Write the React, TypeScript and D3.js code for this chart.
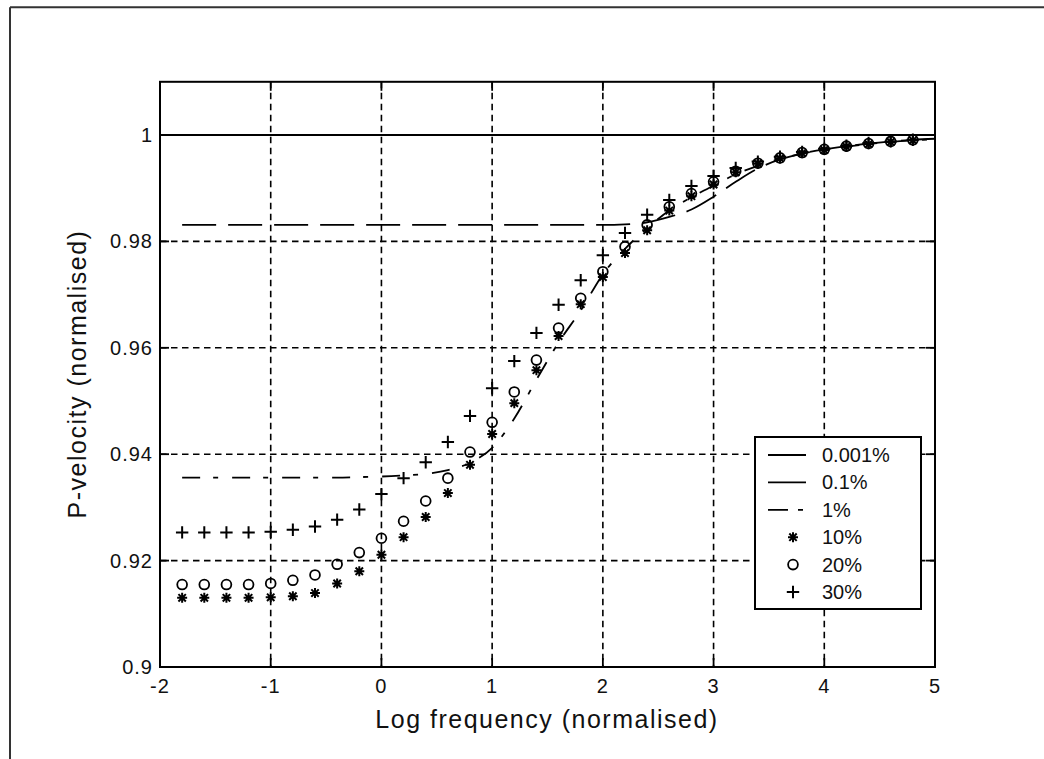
import React from "react";
import * as d3 from "d3";

// Marker series sample frequencies (log, normalised)
const markerFreq = [
  -1.8, -1.6, -1.4, -1.2, -1.0, -0.8, -0.6, -0.4, -0.2, 0.0, 0.2, 0.4, 0.6, 0.8,
  1.0, 1.2, 1.4, 1.6, 1.8, 2.0, 2.2, 2.4, 2.6, 2.8, 3.0, 3.2, 3.4, 3.6, 3.8, 4.0,
  4.2, 4.4, 4.6, 4.8,
];

// 10% (asterisks)
const vel10 = [
  0.913, 0.913, 0.913, 0.913, 0.9131, 0.9133, 0.9139, 0.9157, 0.918, 0.9211,
  0.9244, 0.9282, 0.9327, 0.938, 0.9438, 0.9496, 0.9558, 0.9622, 0.9682, 0.9733,
  0.9778, 0.9821, 0.9858, 0.9885, 0.9907, 0.993, 0.9946, 0.9956, 0.9966, 0.9972,
  0.9978, 0.9983, 0.9987, 0.999,
];

// 20% (circles)
const vel20 = [
  0.9155, 0.9155, 0.9155, 0.9155, 0.9157, 0.9163, 0.9173, 0.9193, 0.9215, 0.9242,
  0.9274, 0.9312, 0.9355, 0.9404, 0.946, 0.9517, 0.9577, 0.9637, 0.9693, 0.9743,
  0.979, 0.9831, 0.9865, 0.989, 0.9912, 0.9932, 0.9947, 0.9957, 0.9967, 0.9973,
  0.9979, 0.9984, 0.9988, 0.9991,
];

// 30% (plus signs)
const vel30 = [
  0.9253, 0.9253, 0.9253, 0.9253, 0.9254, 0.9258, 0.9264, 0.9277, 0.9296, 0.9325,
  0.9355, 0.9385, 0.9423, 0.9472, 0.9524, 0.9575, 0.9628, 0.9681, 0.9727, 0.9774,
  0.9816, 0.985, 0.9878, 0.9904, 0.9923, 0.9938, 0.995, 0.9959, 0.9968, 0.9974,
  0.998, 0.9985, 0.9988, 0.9991,
];

// Continuous curves sample frequencies
const curveFreq = [
  -1.8, -1.6, -1.4, -1.2, -1.0, -0.8, -0.6, -0.4, -0.2, 0.0, 0.2, 0.4, 0.6, 0.8,
  1.0, 1.2, 1.4, 1.6, 1.8, 2.0, 2.2, 2.4, 2.6, 2.8, 3.0, 3.2, 3.4, 3.6, 3.8, 4.0,
  4.2, 4.4, 4.6, 4.8, 5.0,
];

// 0.001% (solid) — flat over the whole frequency range
const flatFreq = [-2, 5];
const vel0001 = [1.0, 1.0];

// 0.1% (dashed)
const vel01 = [
  0.9831, 0.9831, 0.9831, 0.9831, 0.9831, 0.9831, 0.9831, 0.9831, 0.9831, 0.9831,
  0.9831, 0.9831, 0.9831, 0.9831, 0.9831, 0.9831, 0.9831, 0.9831, 0.9831, 0.9831,
  0.9832, 0.9836, 0.9846, 0.986, 0.9884, 0.9912, 0.9937, 0.9954, 0.9965, 0.9973,
  0.9979, 0.9984, 0.9988, 0.9991, 0.9993,
];

// 1% (dash-dot)
const vel1 = [
  0.9356, 0.9356, 0.9356, 0.9356, 0.9356, 0.9356, 0.9356, 0.9356, 0.9357, 0.9358,
  0.936, 0.9363, 0.937, 0.9384, 0.9412, 0.9467, 0.954, 0.961, 0.967, 0.9738,
  0.9786, 0.9825, 0.9858, 0.9883, 0.9905, 0.9926, 0.9942, 0.9955, 0.9965, 0.9972,
  0.9978, 0.9983, 0.9987, 0.999, 0.9992,
];

const xTicks = [-2, -1, 0, 1, 2, 3, 4, 5];
const yTicks = [0.9, 0.92, 0.94, 0.96, 0.98, 1.0];
const yTickLabels = ["0.9", "0.92", "0.94", "0.96", "0.98", "1"];

const legendLabels = ["0.001%", "0.1%", "1%", "10%", "20%", "30%"];

const FONT = "'Liberation Sans', Arial, Helvetica, sans-serif";
const INK = "#000";

const left = 160;
const right = 935;
const top = 81.8;
const bottom = 667;

function Asterisk({ x, y }: { x: number; y: number }) {
  const r = 5;
  const d = 3.7;
  return (
    <path
      d={`M${x - r},${y}H${x + r}M${x},${y - r}V${y + r}M${x - d},${y - d}L${x + d},${y + d}M${x - d},${y + d}L${x + d},${y - d}`}
      stroke={INK}
      strokeWidth={2}
      fill="none"
    />
  );
}

function Circle({ x, y }: { x: number; y: number }) {
  return <circle cx={x} cy={y} r={4.9} stroke={INK} strokeWidth={1.8} fill="none" />;
}

function Plus({ x, y }: { x: number; y: number }) {
  const r = 6.2;
  return (
    <path
      d={`M${x - r},${y}H${x + r}M${x},${y - r}V${y + r}`}
      stroke={INK}
      strokeWidth={2}
      fill="none"
    />
  );
}

export default function App() {
  const xScale = d3.scaleLinear().domain([-2, 5]).range([left, right]);
  const yScale = d3.scaleLinear().domain([0.9, 1.01]).range([bottom, top]);

  const line = d3
    .line<[number, number]>()
    .x((d) => xScale(d[0]))
    .y((d) => yScale(d[1]))
    .curve(d3.curveMonotoneX);

  const pairs = (xs: number[], ys: number[]) =>
    xs.map((x, i) => [x, ys[i]] as [number, number]);

  const curves = [
    { xs: flatFreq, values: vel0001, dash: undefined as string | undefined },
    { xs: curveFreq, values: vel01, dash: "34 12" },
    { xs: curveFreq, values: vel1, dash: "18 13 5 14" },
  ];

  const markerSeries = [
    { values: vel10, Marker: Asterisk },
    { values: vel20, Marker: Circle },
    { values: vel30, Marker: Plus },
  ];

  const tickLen = 9;
  const gridDash = "6.5 4.5";

  // Legend layout
  const lgX = 755;
  const lgY = 437;
  const lgW = 166;
  const lgH = 172;
  const rowY0 = 455;
  const rowStep = 27.4;
  const sampleX0 = 768;
  const sampleX1 = 806;
  const markerX = 793;
  const textX = 822;

  return (
    <svg
      width={1044}
      height={759}
      style={{ position: "absolute", left: 0, top: 0, background: "#fff" }}
      fontFamily={FONT}
    >
      <rect x={0} y={0} width={1044} height={759} fill="#fff" />
      {/* figure frame (top and left edges) */}
      <line x1={10} y1={7.3} x2={1044} y2={7.3} stroke="#333" strokeWidth={2} />
      <line x1={10} y1={7.3} x2={10} y2={759} stroke="#333" strokeWidth={2} />

      {/* grid */}
      <g stroke={INK} strokeWidth={1.6} strokeDasharray={gridDash}>
        {xTicks
          .filter((t) => t > -2 && t < 5)
          .map((t) => (
            <line key={`gx${t}`} x1={xScale(t)} x2={xScale(t)} y1={top} y2={bottom} />
          ))}
        {yTicks
          .filter((t) => t > 0.9)
          .map((t) => (
            <line key={`gy${t}`} x1={left} x2={right} y1={yScale(t)} y2={yScale(t)} />
          ))}
      </g>

      {/* curves */}
      {curves.map((c, i) => (
        <path
          key={`c${i}`}
          d={line(pairs(c.xs, c.values)) || ""}
          fill="none"
          stroke={INK}
          strokeWidth={1.8}
          strokeDasharray={c.dash}
        />
      ))}

      {/* markers */}
      {markerSeries.map((s, si) => (
        <g key={`m${si}`}>
          {markerFreq.map((f, i) => (
            <s.Marker key={i} x={xScale(f)} y={yScale(s.values[i])} />
          ))}
        </g>
      ))}

      {/* axes box */}
      <rect
        x={left}
        y={top}
        width={right - left}
        height={bottom - top}
        fill="none"
        stroke={INK}
        strokeWidth={2}
      />

      {/* ticks */}
      <g stroke={INK} strokeWidth={1.8}>
        {xTicks.map((t) => (
          <g key={`tx${t}`}>
            <line x1={xScale(t)} x2={xScale(t)} y1={bottom} y2={bottom - tickLen} />
            <line x1={xScale(t)} x2={xScale(t)} y1={top} y2={top + tickLen} />
          </g>
        ))}
        {yTicks.map((t) => (
          <g key={`ty${t}`}>
            <line x1={left} x2={left + tickLen} y1={yScale(t)} y2={yScale(t)} />
            <line x1={right} x2={right - tickLen} y1={yScale(t)} y2={yScale(t)} />
          </g>
        ))}
      </g>

      {/* tick labels */}
      <g fontSize={20} fill="#111" style={{ letterSpacing: "1px" }}>
        {xTicks.map((t) => (
          <text key={`lx${t}`} x={xScale(t)} y={693} textAnchor="middle">
            {t < 0 ? `-${Math.abs(t)}` : `${t}`}
          </text>
        ))}
        {yTicks.map((t, i) => (
          <text key={`ly${t}`} x={153} y={yScale(t) + 7} textAnchor="end">
            {yTickLabels[i]}
          </text>
        ))}
      </g>

      {/* axis labels */}
      <text
        x={547}
        y={728}
        textAnchor="middle"
        fontSize={25}
        fill="#111"
        style={{ letterSpacing: "1.5px" }}
      >
        Log frequency (normalised)
      </text>
      <text
        transform={`translate(86,374) rotate(-90)`}
        textAnchor="middle"
        fontSize={25}
        fill="#111"
        style={{ letterSpacing: "1.5px" }}
      >
        P-velocity (normalised)
      </text>

      {/* legend */}
      <rect x={lgX} y={lgY} width={lgW} height={lgH} fill="#fff" stroke={INK} strokeWidth={2} />
      {legendLabels.map((lab, i) => {
        const ry = rowY0 + i * rowStep;
        let sample: React.ReactNode = null;
        if (i < 3) {
          sample = (
            <line
              x1={sampleX0}
              x2={i === 2 ? sampleX0 + 36 : sampleX1}
              y1={ry}
              y2={ry}
              stroke={INK}
              strokeWidth={1.8}
              strokeDasharray={i === 0 ? undefined : i === 1 ? "40 12" : "20 10 5 10"}
            />
          );
        } else {
          const M = markerSeries[i - 3].Marker;
          sample = <M x={markerX} y={ry} />;
        }
        return (
          <g key={`lg${i}`}>
            {sample}
            <text x={textX} y={ry + 7} fontSize={20} fill="#111">
              {lab}
            </text>
          </g>
        );
      })}
    </svg>
  );
}
